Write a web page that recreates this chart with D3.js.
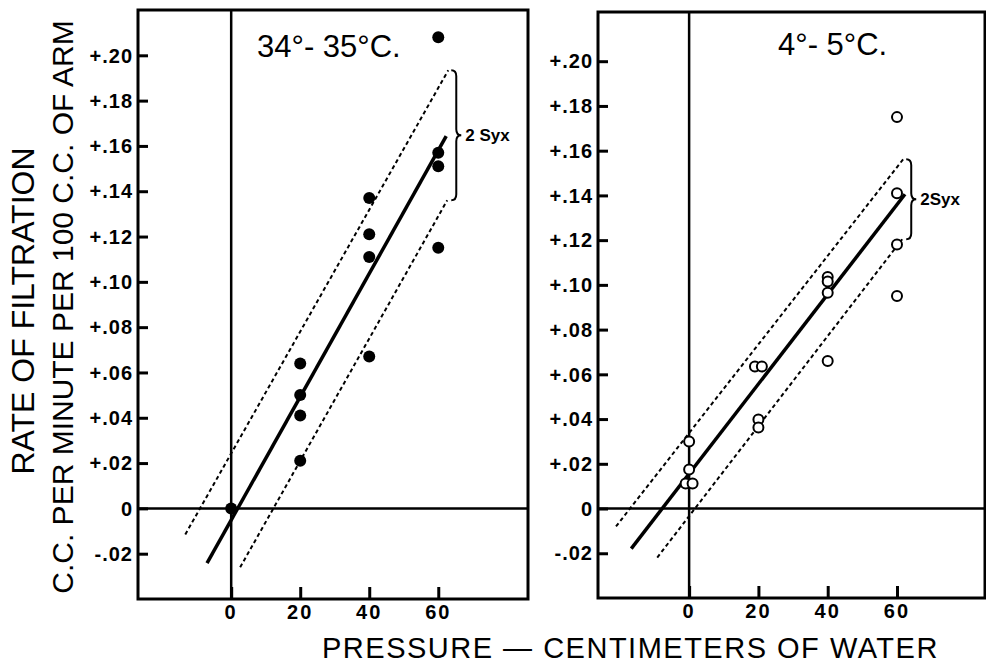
<!DOCTYPE html>
<html>
<head>
<meta charset="utf-8">
<script src="https://cdn.jsdelivr.net/npm/d3@7"></script>
<style>
  body { margin: 0; background: #fff; }
  text { font-family: "Liberation Sans", Arial, sans-serif; fill: #000; }
</style>
</head>
<body>
<div id="chart"></div>
<script>
// data
var xTicks = [0, 20, 40, 60]
var yTicks = [-0.02, 0, 0.02, 0.04, 0.06, 0.08, 0.10, 0.12, 0.14, 0.16, 0.18, 0.20]
var yTickLabels = ["-.02", "0", "+.02", "+.04", "+.06", "+.08", "+.10", "+.12", "+.14", "+.16", "+.18", "+.20"]

var warmTitle = "34°- 35°C."
var coldTitle = "4°- 5°C."
var bandLabelWarm = "2 Syx"
var bandLabelCold = "2Syx"

// 34-35 C, filled dots
var warmX = [0, 20, 20, 20, 20, 40, 40, 40, 40, 60, 60, 60, 60]
var warmY = [0, 0.021, 0.041, 0.050, 0.064, 0.067, 0.111, 0.121, 0.137, 0.115, 0.151, 0.157, 0.208]
var warmFit = [[-7, -0.0242], [62.3, 0.1643]]
var warmUpper = [[-13.3, -0.0115], [62.9, 0.1934]]
var warmLower = [[2.6, -0.026], [62.6, 0.136]]

// 4-5 C, open circles
var coldX = [60, 60, 60, 60, 40, 40, 40, 40, 19, 21, 20, 20, 0, 0, -1, 1]
var coldY = [0.175, 0.141, 0.118, 0.095, 0.1035, 0.1015, 0.0965, 0.066, 0.0635, 0.0635, 0.0398, 0.0362, 0.030, 0.0175, 0.0112, 0.0112]
var coldFit = [[-16.7, -0.0179], [62.3, 0.1405]]
var coldUpper = [[-21.1, -0.008], [61.8, 0.1562]]
var coldLower = [[-9.2, -0.0219], [61.5, 0.1204]]

var width = 986, height = 663

var svg = d3.select("#chart")
    .append("svg")
    .attr("width", width)
    .attr("height", height)

// one entry per panel
var panels = [
    {left: 138, right: 528, top: 10, bottom: 599, xDom: [-27, 86], yDom: [-0.04, 0.22],
     title: warmTitle, titleX: 119, titleY: 57, xs: warmX, ys: warmY, filled: true,
     fit: warmFit, upper: warmUpper, lower: warmLower, band: bandLabelWarm},
    {left: 598, right: 985, top: 12, bottom: 598, xDom: [-26.3, 85.4], yDom: [-0.04, 0.222],
     title: coldTitle, titleX: 180, titleY: 55, xs: coldX, ys: coldY, filled: false,
     fit: coldFit, upper: coldUpper, lower: coldLower, band: bandLabelCold}
]

// curly brace pointing right
function brace(x, y1, y2, w) {
    var ym = (y1 + y2) / 2, r = 6, xm = x + w / 2
    return "M" + x + "," + y1 +
        " Q" + xm + "," + y1 + " " + xm + "," + (y1 + r) +
        " L" + xm + "," + (ym - r) +
        " Q" + xm + "," + ym + " " + (x + w) + "," + ym +
        " Q" + xm + "," + ym + " " + xm + "," + (ym + r) +
        " L" + xm + "," + (y2 - r) +
        " Q" + xm + "," + y2 + " " + x + "," + y2
}

panels.forEach(function(p) {
    var x = d3.scaleLinear().domain(p.xDom).range([p.left, p.right])
    var y = d3.scaleLinear().domain(p.yDom).range([p.bottom, p.top])
    var g = svg.append("g")

    // zero lines
    g.append("line")
        .attr("x1", x(0)).attr("x2", x(0))
        .attr("y1", p.top).attr("y2", p.bottom)
        .attr("stroke", "black").attr("stroke-width", 2.5)
    g.append("line")
        .attr("x1", p.left).attr("x2", p.right)
        .attr("y1", y(0)).attr("y2", y(0))
        .attr("stroke", "black").attr("stroke-width", 2.5)

    // y axis, ticks pointing inward
    var yAxis = g.append("g")
        .attr("transform", "translate(" + p.left + ",0)")
        .call(d3.axisRight(y).tickValues(yTicks).tickSize(10).tickFormat(""))
    yAxis.select(".domain").remove()
    yAxis.selectAll("line").attr("stroke-width", 3)

    g.selectAll(null)
        .data(yTicks)
        .enter()
        .append("text")
        .attr("x", p.left - 5)
        .attr("y", d => y(d))
        .attr("dy", "0.36em")
        .attr("text-anchor", "end")
        .style("font-size", "20px")
        .style("font-weight", "bold")
        .style("letter-spacing", "1px")
        .text((d, i) => yTickLabels[i])

    // x axis, ticks pointing inward
    var xAxis = g.append("g")
        .attr("transform", "translate(0," + p.bottom + ")")
        .call(d3.axisTop(x).tickValues(xTicks).tickSize(12).tickFormat(""))
    xAxis.select(".domain").remove()
    xAxis.selectAll("line").attr("stroke-width", 3)

    g.selectAll(null)
        .data(xTicks)
        .enter()
        .append("text")
        .attr("x", d => x(d))
        .attr("y", p.bottom + 20)
        .attr("text-anchor", "middle")
        .style("font-size", "20px")
        .style("font-weight", "bold")
        .style("letter-spacing", "2px")
        .text(d => d)

    // frame
    g.append("rect")
        .attr("x", p.left).attr("y", p.top)
        .attr("width", p.right - p.left).attr("height", p.bottom - p.top)
        .attr("fill", "none")
        .attr("stroke", "black").attr("stroke-width", 3)

    // band lines and fit
    var line = d3.line().x(d => x(d[0])).y(d => y(d[1]))
    g.selectAll(null)
        .data([p.upper, p.lower])
        .enter()
        .append("path")
        .attr("d", line)
        .attr("fill", "none")
        .attr("stroke", "black")
        .attr("stroke-width", 2)
        .attr("stroke-dasharray", "4,3")
    g.append("path")
        .attr("d", line(p.fit))
        .attr("fill", "none")
        .attr("stroke", "black")
        .attr("stroke-width", 3.5)

    // brace and its label
    var bx = x(p.upper[1][0]) + 3
    var by1 = y(p.upper[1][1]), by2 = y(p.lower[1][1])
    g.append("path")
        .attr("d", brace(bx, by1, by2, 10))
        .attr("fill", "none")
        .attr("stroke", "black")
        .attr("stroke-width", 2)
    g.append("text")
        .attr("x", bx + 14)
        .attr("y", (by1 + by2) / 2)
        .attr("dy", "0.36em")
        .style("font-size", "17px")
        .style("font-weight", "bold")
        .text(p.band)

    // points
    g.selectAll(null)
        .data(p.xs)
        .enter()
        .append("circle")
        .attr("cx", d => x(d))
        .attr("cy", (d, i) => y(p.ys[i]))
        .attr("r", p.filled ? 6 : 5)
        .attr("fill", p.filled ? "black" : "white")
        .attr("stroke", "black")
        .attr("stroke-width", p.filled ? 0 : 2)

    // panel title
    g.append("text")
        .attr("x", p.left + p.titleX)
        .attr("y", p.titleY)
        .style("font-size", "31px")
        .text(p.title)
})

// axis titles
svg.append("text")
    .attr("transform", "translate(34,311) rotate(-90)")
    .attr("text-anchor", "middle")
    .style("font-size", "32px")
    .text("RATE OF FILTRATION")

svg.append("text")
    .attr("transform", "translate(73,307) rotate(-90)")
    .attr("text-anchor", "middle")
    .style("font-size", "30px")
    .text("C.C. PER MINUTE PER 100 C.C. OF ARM")

svg.append("text")
    .attr("x", 322)
    .attr("y", 658)
    .style("font-size", "29px")
    .style("letter-spacing", "1.5px")
    .text("PRESSURE — CENTIMETERS OF WATER")
</script>
</body>
</html>
